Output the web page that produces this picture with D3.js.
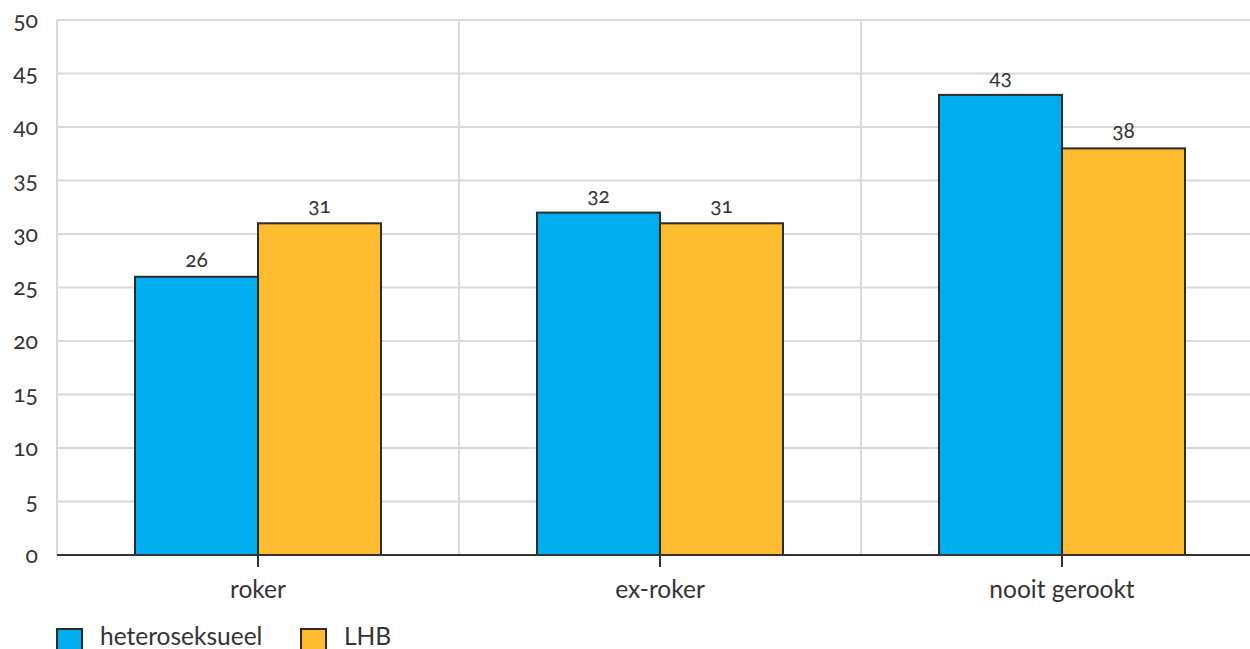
<!DOCTYPE html>
<html>
<head>
<meta charset="utf-8">
<script src="https://cdn.jsdelivr.net/npm/d3@7"></script>
<style>
  html, body { margin: 0; padding: 0; background: #fff; }
  svg { display: block; font-family: Lato, "Open Sans", sans-serif; font-variant-numeric: oldstyle-nums; }
</style>
</head>
<body>
<svg id="chart" width="1250" height="649"></svg>
<script>
const categories = ["roker", "ex-roker", "nooit gerookt"];
const seriesNames = ["heteroseksueel", "LHB"];
const heteroseksueel = [26, 32, 43];
const lhb = [31, 31, 38];
const yTicks = [0, 5, 10, 15, 20, 25, 30, 35, 40, 45, 50];
const colors = ["#00aeef", "#fdbb30"];

const seriesValues = [heteroseksueel, lhb];
const data = categories.map((c, i) => ({
  cat: c,
  vals: seriesNames.map((s, j) => ({ key: s, value: seriesValues[j][i], color: colors[j] }))
}));

const svg = d3.select("#chart");
const mLeft = 57, mTop = 20, mBottom = 555, plotRight = 1250;

const x0 = d3.scaleBand().domain(categories).range([mLeft, mLeft + 3 * 402]).padding(0);
const x1 = d3.scaleBand().domain(seriesNames).range([0, x0.bandwidth()]).paddingInner(0).paddingOuter(0.634);
const y = d3.scaleLinear().domain([0, 50]).range([mBottom, mTop]);

// horizontal grid
svg.append("g").selectAll("line").data(yTicks).join("line")
  .attr("x1", mLeft).attr("x2", plotRight)
  .attr("y1", d => y(d)).attr("y2", d => y(d))
  .attr("stroke", "#d9d9d9").attr("stroke-width", 2);

// vertical category separators
const seps = [mLeft].concat(categories.slice(1).map(c => x0(c)));
svg.append("g").selectAll("line").data(seps).join("line")
  .attr("x1", d => d).attr("x2", d => d)
  .attr("y1", y(50)).attr("y2", mBottom)
  .attr("stroke", "#d9d9d9").attr("stroke-width", 2);

// y axis labels
const yAxis = d3.axisLeft(y).tickValues(yTicks).tickSize(0).tickPadding(19);
const gy = svg.append("g").attr("transform", `translate(${mLeft},0)`).call(yAxis);
gy.select(".domain").remove();
gy.selectAll("text").attr("font-size", 23).attr("fill", "#333")
  .style("font-family", "Lato, 'Open Sans', sans-serif");

// bars
const groups = svg.append("g").selectAll("g").data(data).join("g")
  .attr("transform", d => `translate(${x0(d.cat)},0)`);
groups.selectAll("rect").data(d => d.vals).join("rect")
  .attr("x", d => x1(d.key))
  .attr("y", d => y(d.value))
  .attr("width", x1.bandwidth())
  .attr("height", d => mBottom - y(d.value))
  .attr("fill", d => d.color)
  .attr("stroke", "#2b2b2b").attr("stroke-width", 2);
groups.selectAll("text").data(d => d.vals).join("text")
  .attr("x", d => x1(d.key) + x1.bandwidth() / 2)
  .attr("y", d => y(d.value) - 10)
  .attr("text-anchor", "middle")
  .attr("font-size", 21).attr("fill", "#333")
  .text(d => d.value);

// x axis
const xAxis = d3.axisBottom(x0).tickSize(12).tickPadding(14).tickSizeOuter(0);
const gx = svg.append("g").attr("transform", `translate(0,${mBottom})`).call(xAxis);
gx.select(".domain").remove();
gx.append("line").attr("x1", mLeft).attr("x2", plotRight).attr("y1", 0).attr("y2", 0)
  .attr("stroke", "#333").attr("stroke-width", 2);
gx.selectAll(".tick line").attr("stroke", "#333").attr("stroke-width", 2);
gx.selectAll("text").attr("font-size", 24.5).attr("fill", "#333")
  .style("font-family", "Lato, 'Open Sans', sans-serif");

// legend
const legend = svg.append("g");
const legX = [57, 301];
seriesNames.forEach((s, i) => {
  legend.append("rect").attr("x", legX[i]).attr("y", 629).attr("width", 25).attr("height", 25)
    .attr("fill", colors[i]).attr("stroke", "#2b2b2b").attr("stroke-width", 2);
  legend.append("text").attr("x", legX[i] + 43).attr("y", 645)
    .attr("font-size", 24.5).attr("fill", "#333").text(s);
});
</script>
</body>
</html>
